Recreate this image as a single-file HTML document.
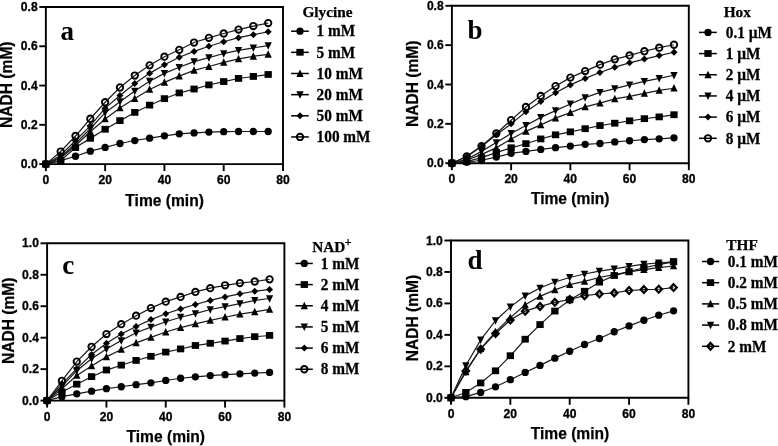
<!DOCTYPE html>
<html><head><meta charset="utf-8"><title>NADH kinetics</title>
<style>
html,body{margin:0;padding:0;background:#fff;}
body{width:778px;height:446px;overflow:hidden;}
svg{display:block;filter:grayscale(1);}
.tk{font-family:"Liberation Sans", sans-serif;font-weight:bold;font-size:12.1px;fill:#000;stroke:#000;stroke-width:0.3px;}
.at{font-family:"Liberation Sans", sans-serif;font-weight:bold;font-size:16.2px;fill:#000;stroke:#000;stroke-width:0.25px;}
.yt{font-family:"Liberation Sans", sans-serif;font-weight:bold;font-size:15.8px;fill:#000;stroke:#000;stroke-width:0.25px;}
.pl{font-family:"Liberation Serif", serif;font-weight:bold;font-size:27px;fill:#000;}
.lg{font-family:"Liberation Serif", serif;font-weight:bold;font-size:15.3px;fill:#000;stroke:#000;stroke-width:0.25px;}
</style></head>
<body>
<svg width="778" height="446" viewBox="0 0 778 446">
<rect width="778" height="446" fill="#fff"/>
<path d="M45.85 7H283V164.1H45.85Z" fill="none" stroke="#000" stroke-width="1.9"/>
<path d="M45.85 164.1V171.1" stroke="#000" stroke-width="1.9"/>
<text x="45.85" y="184.1" class="tk" text-anchor="middle">0</text>
<path d="M105.14 164.1V171.1" stroke="#000" stroke-width="1.9"/>
<text x="105.14" y="184.1" class="tk" text-anchor="middle">20</text>
<path d="M164.43 164.1V171.1" stroke="#000" stroke-width="1.9"/>
<text x="164.43" y="184.1" class="tk" text-anchor="middle">40</text>
<path d="M223.71 164.1V171.1" stroke="#000" stroke-width="1.9"/>
<text x="223.71" y="184.1" class="tk" text-anchor="middle">60</text>
<path d="M283 164.1V171.1" stroke="#000" stroke-width="1.9"/>
<text x="283" y="184.1" class="tk" text-anchor="middle">80</text>
<path d="M39.25 164.1H45.85" stroke="#000" stroke-width="1.9"/>
<text x="37.65" y="168.1" class="tk" text-anchor="end">0.0</text>
<path d="M39.25 124.82H45.85" stroke="#000" stroke-width="1.9"/>
<text x="37.65" y="128.82" class="tk" text-anchor="end">0.2</text>
<path d="M39.25 85.55H45.85" stroke="#000" stroke-width="1.9"/>
<text x="37.65" y="89.55" class="tk" text-anchor="end">0.4</text>
<path d="M39.25 46.27H45.85" stroke="#000" stroke-width="1.9"/>
<text x="37.65" y="50.27" class="tk" text-anchor="end">0.6</text>
<path d="M39.25 7H45.85" stroke="#000" stroke-width="1.9"/>
<text x="37.65" y="11" class="tk" text-anchor="end">0.8</text>
<text x="164.6" y="205.6" class="at" text-anchor="middle" textLength="78.5" lengthAdjust="spacingAndGlyphs">Time (min)</text>
<text transform="translate(11.6 84.7) rotate(-90)" class="yt" text-anchor="middle" textLength="86.5" lengthAdjust="spacingAndGlyphs">NADH (mM)</text>
<text x="60.6" y="40.1" class="pl">a</text>
<polyline points="45.85,164.1 60.67,160.57 75.49,156.25 90.32,151.14 105.14,147.41 119.96,143.48 134.78,140.53 149.6,138.18 164.43,135.82 179.25,133.86 194.07,132.88 208.89,132.09 223.71,131.7 238.53,131.5 253.36,131.5 268.18,131.5" fill="none" stroke="#1a1a1a" stroke-width="1.2"/>
<polyline points="45.85,164.1 60.67,160.76 75.49,147.6 90.32,138.37 105.14,129.34 119.96,120.7 134.78,112.45 149.6,105.19 164.43,98.71 179.25,93.01 194.07,89.08 208.89,84.96 223.71,81.62 238.53,78.48 253.36,76.52 268.18,74.55" fill="none" stroke="#1a1a1a" stroke-width="1.2"/>
<polyline points="45.85,164.1 60.67,158.21 75.49,145.44 90.32,131.7 105.14,118.93 119.96,107.94 134.78,98.51 149.6,89.48 164.43,82.41 179.25,76.12 194.07,70.43 208.89,66.5 223.71,62.38 238.53,58.84 253.36,56.29 268.18,54.33" fill="none" stroke="#1a1a1a" stroke-width="1.2"/>
<polyline points="45.85,164.1 60.67,157.23 75.49,143.48 90.32,128.75 105.14,112.65 119.96,101.65 134.78,91.05 149.6,81.23 164.43,73.37 179.25,67.29 194.07,61.59 208.89,57.66 223.71,53.54 238.53,50.4 253.36,47.85 268.18,45.69" fill="none" stroke="#1a1a1a" stroke-width="1.2"/>
<polyline points="45.85,164.1 60.67,155.26 75.49,140.53 90.32,125.81 105.14,108.13 119.96,95.57 134.78,83.59 149.6,73.37 164.43,64.73 179.25,57.27 194.07,51.38 208.89,46.28 223.71,41.76 238.53,37.63 253.36,34.69 268.18,31.74" fill="none" stroke="#1a1a1a" stroke-width="1.2"/>
<polyline points="45.85,164.1 60.67,151.53 75.49,136.02 90.32,118.74 105.14,102.24 119.96,87.51 134.78,75.53 149.6,65.32 164.43,56.68 179.25,49.81 194.07,42.54 208.89,37.83 223.71,33.51 238.53,29.58 253.36,26.05 268.18,23.1" fill="none" stroke="#1a1a1a" stroke-width="1.2"/>
<circle cx="45.85" cy="164.1" r="3.65" fill="#000"/>
<circle cx="60.67" cy="160.57" r="3.65" fill="#000"/>
<circle cx="75.49" cy="156.25" r="3.65" fill="#000"/>
<circle cx="90.32" cy="151.14" r="3.65" fill="#000"/>
<circle cx="105.14" cy="147.41" r="3.65" fill="#000"/>
<circle cx="119.96" cy="143.48" r="3.65" fill="#000"/>
<circle cx="134.78" cy="140.53" r="3.65" fill="#000"/>
<circle cx="149.6" cy="138.18" r="3.65" fill="#000"/>
<circle cx="164.43" cy="135.82" r="3.65" fill="#000"/>
<circle cx="179.25" cy="133.86" r="3.65" fill="#000"/>
<circle cx="194.07" cy="132.88" r="3.65" fill="#000"/>
<circle cx="208.89" cy="132.09" r="3.65" fill="#000"/>
<circle cx="223.71" cy="131.7" r="3.65" fill="#000"/>
<circle cx="238.53" cy="131.5" r="3.65" fill="#000"/>
<circle cx="253.36" cy="131.5" r="3.65" fill="#000"/>
<circle cx="268.18" cy="131.5" r="3.65" fill="#000"/>
<rect x="42.2" y="160.63" width="7.3" height="6.79" fill="#000"/>
<rect x="57.02" y="157.29" width="7.3" height="6.79" fill="#000"/>
<rect x="71.84" y="144.14" width="7.3" height="6.79" fill="#000"/>
<rect x="86.67" y="134.91" width="7.3" height="6.79" fill="#000"/>
<rect x="101.49" y="125.87" width="7.3" height="6.79" fill="#000"/>
<rect x="116.31" y="117.23" width="7.3" height="6.79" fill="#000"/>
<rect x="131.13" y="108.99" width="7.3" height="6.79" fill="#000"/>
<rect x="145.95" y="101.72" width="7.3" height="6.79" fill="#000"/>
<rect x="160.78" y="95.24" width="7.3" height="6.79" fill="#000"/>
<rect x="175.6" y="89.54" width="7.3" height="6.79" fill="#000"/>
<rect x="190.42" y="85.62" width="7.3" height="6.79" fill="#000"/>
<rect x="205.24" y="81.49" width="7.3" height="6.79" fill="#000"/>
<rect x="220.06" y="78.16" width="7.3" height="6.79" fill="#000"/>
<rect x="234.88" y="75.01" width="7.3" height="6.79" fill="#000"/>
<rect x="249.71" y="73.05" width="7.3" height="6.79" fill="#000"/>
<rect x="264.53" y="71.09" width="7.3" height="6.79" fill="#000"/>
<path d="M45.85 159.97L49.5 167.47L42.2 167.47Z" fill="#000"/>
<path d="M60.67 154.08L64.32 161.58L57.02 161.58Z" fill="#000"/>
<path d="M75.49 141.32L79.14 148.82L71.84 148.82Z" fill="#000"/>
<path d="M90.32 127.57L93.97 135.07L86.67 135.07Z" fill="#000"/>
<path d="M105.14 114.81L108.79 122.31L101.49 122.31Z" fill="#000"/>
<path d="M119.96 103.81L123.61 111.31L116.31 111.31Z" fill="#000"/>
<path d="M134.78 94.39L138.43 101.89L131.13 101.89Z" fill="#000"/>
<path d="M149.6 85.35L153.25 92.85L145.95 92.85Z" fill="#000"/>
<path d="M164.43 78.28L168.08 85.78L160.78 85.78Z" fill="#000"/>
<path d="M179.25 72L182.9 79.5L175.6 79.5Z" fill="#000"/>
<path d="M194.07 66.3L197.72 73.8L190.42 73.8Z" fill="#000"/>
<path d="M208.89 62.38L212.54 69.88L205.24 69.88Z" fill="#000"/>
<path d="M223.71 58.25L227.36 65.75L220.06 65.75Z" fill="#000"/>
<path d="M238.53 54.72L242.18 62.22L234.88 62.22Z" fill="#000"/>
<path d="M253.36 52.17L257.01 59.67L249.71 59.67Z" fill="#000"/>
<path d="M268.18 50.2L271.83 57.7L264.53 57.7Z" fill="#000"/>
<path d="M45.85 168.22L49.5 160.72L42.2 160.72Z" fill="#000"/>
<path d="M60.67 161.35L64.32 153.85L57.02 153.85Z" fill="#000"/>
<path d="M75.49 147.61L79.14 140.11L71.84 140.11Z" fill="#000"/>
<path d="M90.32 132.88L93.97 125.38L86.67 125.38Z" fill="#000"/>
<path d="M105.14 116.77L108.79 109.27L101.49 109.27Z" fill="#000"/>
<path d="M119.96 105.78L123.61 98.28L116.31 98.28Z" fill="#000"/>
<path d="M134.78 95.17L138.43 87.67L131.13 87.67Z" fill="#000"/>
<path d="M149.6 85.35L153.25 77.85L145.95 77.85Z" fill="#000"/>
<path d="M164.43 77.5L168.08 70L160.78 70Z" fill="#000"/>
<path d="M179.25 71.41L182.9 63.91L175.6 63.91Z" fill="#000"/>
<path d="M194.07 65.72L197.72 58.22L190.42 58.22Z" fill="#000"/>
<path d="M208.89 61.79L212.54 54.29L205.24 54.29Z" fill="#000"/>
<path d="M223.71 57.67L227.36 50.17L220.06 50.17Z" fill="#000"/>
<path d="M238.53 54.52L242.18 47.02L234.88 47.02Z" fill="#000"/>
<path d="M253.36 51.97L257.01 44.47L249.71 44.47Z" fill="#000"/>
<path d="M268.18 49.81L271.83 42.31L264.53 42.31Z" fill="#000"/>
<path d="M45.85 160.6L49.35 164.1L45.85 167.6L42.35 164.1Z" fill="#000"/>
<path d="M60.67 151.76L64.17 155.26L60.67 158.76L57.17 155.26Z" fill="#000"/>
<path d="M75.49 137.03L78.99 140.53L75.49 144.03L71.99 140.53Z" fill="#000"/>
<path d="M90.32 122.31L93.82 125.81L90.32 129.31L86.82 125.81Z" fill="#000"/>
<path d="M105.14 104.63L108.64 108.13L105.14 111.63L101.64 108.13Z" fill="#000"/>
<path d="M119.96 92.07L123.46 95.57L119.96 99.07L116.46 95.57Z" fill="#000"/>
<path d="M134.78 80.09L138.28 83.59L134.78 87.09L131.28 83.59Z" fill="#000"/>
<path d="M149.6 69.87L153.1 73.37L149.6 76.87L146.1 73.37Z" fill="#000"/>
<path d="M164.43 61.23L167.93 64.73L164.43 68.23L160.93 64.73Z" fill="#000"/>
<path d="M179.25 53.77L182.75 57.27L179.25 60.77L175.75 57.27Z" fill="#000"/>
<path d="M194.07 47.88L197.57 51.38L194.07 54.88L190.57 51.38Z" fill="#000"/>
<path d="M208.89 42.78L212.39 46.28L208.89 49.78L205.39 46.28Z" fill="#000"/>
<path d="M223.71 38.26L227.21 41.76L223.71 45.26L220.21 41.76Z" fill="#000"/>
<path d="M238.53 34.13L242.03 37.63L238.53 41.13L235.03 37.63Z" fill="#000"/>
<path d="M253.36 31.19L256.86 34.69L253.36 38.19L249.86 34.69Z" fill="#000"/>
<path d="M268.18 28.24L271.68 31.74L268.18 35.24L264.68 31.74Z" fill="#000"/>
<circle cx="45.85" cy="164.1" r="3.2" fill="none" stroke="#000" stroke-width="1.9"/>
<circle cx="60.67" cy="151.53" r="3.2" fill="none" stroke="#000" stroke-width="1.9"/>
<circle cx="75.49" cy="136.02" r="3.2" fill="none" stroke="#000" stroke-width="1.9"/>
<circle cx="90.32" cy="118.74" r="3.2" fill="none" stroke="#000" stroke-width="1.9"/>
<circle cx="105.14" cy="102.24" r="3.2" fill="none" stroke="#000" stroke-width="1.9"/>
<circle cx="119.96" cy="87.51" r="3.2" fill="none" stroke="#000" stroke-width="1.9"/>
<circle cx="134.78" cy="75.53" r="3.2" fill="none" stroke="#000" stroke-width="1.9"/>
<circle cx="149.6" cy="65.32" r="3.2" fill="none" stroke="#000" stroke-width="1.9"/>
<circle cx="164.43" cy="56.68" r="3.2" fill="none" stroke="#000" stroke-width="1.9"/>
<circle cx="179.25" cy="49.81" r="3.2" fill="none" stroke="#000" stroke-width="1.9"/>
<circle cx="194.07" cy="42.54" r="3.2" fill="none" stroke="#000" stroke-width="1.9"/>
<circle cx="208.89" cy="37.83" r="3.2" fill="none" stroke="#000" stroke-width="1.9"/>
<circle cx="223.71" cy="33.51" r="3.2" fill="none" stroke="#000" stroke-width="1.9"/>
<circle cx="238.53" cy="29.58" r="3.2" fill="none" stroke="#000" stroke-width="1.9"/>
<circle cx="253.36" cy="26.05" r="3.2" fill="none" stroke="#000" stroke-width="1.9"/>
<circle cx="268.18" cy="23.1" r="3.2" fill="none" stroke="#000" stroke-width="1.9"/>
<text transform="translate(302.4 17) scale(1 1.0)" class="lg">Glycine</text>
<path d="M291.1 31.2H308.8" stroke="#000" stroke-width="1.5"/>
<circle cx="300" cy="31.2" r="3.65" fill="#000"/>
<text transform="translate(316.6 36.4) scale(1 1.05)" class="lg">1 mM</text>
<path d="M291.1 52.35H308.8" stroke="#000" stroke-width="1.5"/>
<rect x="296.35" y="48.88" width="7.3" height="6.79" fill="#000"/>
<text transform="translate(316.6 57.55) scale(1 1.05)" class="lg">5 mM</text>
<path d="M291.1 73.5H308.8" stroke="#000" stroke-width="1.5"/>
<path d="M300 69.38L303.65 76.88L296.35 76.88Z" fill="#000"/>
<text transform="translate(316.6 78.7) scale(1 1.05)" class="lg">10 mM</text>
<path d="M291.1 94.65H308.8" stroke="#000" stroke-width="1.5"/>
<path d="M300 98.77L303.65 91.27L296.35 91.27Z" fill="#000"/>
<text transform="translate(316.6 99.85) scale(1 1.05)" class="lg">20 mM</text>
<path d="M291.1 115.8H308.8" stroke="#000" stroke-width="1.5"/>
<path d="M300 112.3L303.5 115.8L300 119.3L296.5 115.8Z" fill="#000"/>
<text transform="translate(316.6 121) scale(1 1.05)" class="lg">50 mM</text>
<path d="M291.1 136.95H308.8" stroke="#000" stroke-width="1.5"/>
<circle cx="300" cy="136.95" r="3.2" fill="none" stroke="#000" stroke-width="1.9"/>
<text transform="translate(316.6 142.15) scale(1 1.05)" class="lg">100 mM</text>
<path d="M451.9 5.8H688.8V163.2H451.9Z" fill="none" stroke="#000" stroke-width="1.9"/>
<path d="M451.9 163.2V170.2" stroke="#000" stroke-width="1.9"/>
<text x="451.9" y="183.2" class="tk" text-anchor="middle">0</text>
<path d="M511.12 163.2V170.2" stroke="#000" stroke-width="1.9"/>
<text x="511.12" y="183.2" class="tk" text-anchor="middle">20</text>
<path d="M570.35 163.2V170.2" stroke="#000" stroke-width="1.9"/>
<text x="570.35" y="183.2" class="tk" text-anchor="middle">40</text>
<path d="M629.57 163.2V170.2" stroke="#000" stroke-width="1.9"/>
<text x="629.57" y="183.2" class="tk" text-anchor="middle">60</text>
<path d="M688.8 163.2V170.2" stroke="#000" stroke-width="1.9"/>
<text x="688.8" y="183.2" class="tk" text-anchor="middle">80</text>
<path d="M445.3 163.2H451.9" stroke="#000" stroke-width="1.9"/>
<text x="443.7" y="167.2" class="tk" text-anchor="end">0.0</text>
<path d="M445.3 123.85H451.9" stroke="#000" stroke-width="1.9"/>
<text x="443.7" y="127.85" class="tk" text-anchor="end">0.2</text>
<path d="M445.3 84.5H451.9" stroke="#000" stroke-width="1.9"/>
<text x="443.7" y="88.5" class="tk" text-anchor="end">0.4</text>
<path d="M445.3 45.15H451.9" stroke="#000" stroke-width="1.9"/>
<text x="443.7" y="49.15" class="tk" text-anchor="end">0.6</text>
<path d="M445.3 5.8H451.9" stroke="#000" stroke-width="1.9"/>
<text x="443.7" y="9.8" class="tk" text-anchor="end">0.8</text>
<text x="570.2" y="204.3" class="at" text-anchor="middle" textLength="78.5" lengthAdjust="spacingAndGlyphs">Time (min)</text>
<text transform="translate(418 83.8) rotate(-90)" class="yt" text-anchor="middle" textLength="86.5" lengthAdjust="spacingAndGlyphs">NADH (mM)</text>
<text x="467.4" y="39.2" class="pl">b</text>
<polyline points="451.9,163.2 466.71,162.22 481.51,160.25 496.32,157.1 511.12,153.36 525.93,151.39 540.74,149.43 555.54,147.66 570.35,146.08 585.16,144.31 599.96,143.52 614.77,141.95 629.57,140.77 644.38,139.59 659.19,138.8 673.99,137.82" fill="none" stroke="#1a1a1a" stroke-width="1.2"/>
<polyline points="451.9,163.2 466.71,161.63 481.51,157.69 496.32,152.58 511.12,147.85 525.93,143.72 540.74,139 555.54,134.87 570.35,131.92 585.16,128.77 599.96,125.62 614.77,123.26 629.57,120.9 644.38,118.73 659.19,116.96 673.99,114.8" fill="none" stroke="#1a1a1a" stroke-width="1.2"/>
<polyline points="451.9,163.2 466.71,160.25 481.51,154.35 496.32,147.85 511.12,139 525.93,131.33 540.74,124.83 555.54,118.14 570.35,112.64 585.16,106.93 599.96,103.19 614.77,98.86 629.57,96.3 644.38,93.35 659.19,90.4 673.99,88.24" fill="none" stroke="#1a1a1a" stroke-width="1.2"/>
<polyline points="451.9,163.2 466.71,159.26 481.51,151.39 496.32,142.54 511.12,133.49 525.93,125.42 540.74,117.36 555.54,110.67 570.35,103.98 585.16,97.68 599.96,92.37 614.77,88.63 629.57,84.89 644.38,81.35 659.19,78.4 673.99,75.25" fill="none" stroke="#1a1a1a" stroke-width="1.2"/>
<polyline points="451.9,163.2 466.71,156.71 481.51,146.48 496.32,134.67 511.12,123.85 525.93,111.85 540.74,101.62 555.54,92.76 570.35,84.89 585.16,78.4 599.96,72.5 614.77,67.19 629.57,62.86 644.38,59.12 659.19,55.58 673.99,52.23" fill="none" stroke="#1a1a1a" stroke-width="1.2"/>
<polyline points="451.9,163.2 466.71,156.31 481.51,146.08 496.32,133.49 511.12,120.11 525.93,106.93 540.74,95.91 555.54,86.07 570.35,77.61 585.16,71.12 599.96,64.63 614.77,59.32 629.57,55.38 644.38,51.25 659.19,47.71 673.99,44.76" fill="none" stroke="#1a1a1a" stroke-width="1.2"/>
<circle cx="451.9" cy="163.2" r="3.65" fill="#000"/>
<circle cx="466.71" cy="162.22" r="3.65" fill="#000"/>
<circle cx="481.51" cy="160.25" r="3.65" fill="#000"/>
<circle cx="496.32" cy="157.1" r="3.65" fill="#000"/>
<circle cx="511.12" cy="153.36" r="3.65" fill="#000"/>
<circle cx="525.93" cy="151.39" r="3.65" fill="#000"/>
<circle cx="540.74" cy="149.43" r="3.65" fill="#000"/>
<circle cx="555.54" cy="147.66" r="3.65" fill="#000"/>
<circle cx="570.35" cy="146.08" r="3.65" fill="#000"/>
<circle cx="585.16" cy="144.31" r="3.65" fill="#000"/>
<circle cx="599.96" cy="143.52" r="3.65" fill="#000"/>
<circle cx="614.77" cy="141.95" r="3.65" fill="#000"/>
<circle cx="629.57" cy="140.77" r="3.65" fill="#000"/>
<circle cx="644.38" cy="139.59" r="3.65" fill="#000"/>
<circle cx="659.19" cy="138.8" r="3.65" fill="#000"/>
<circle cx="673.99" cy="137.82" r="3.65" fill="#000"/>
<rect x="448.25" y="159.73" width="7.3" height="6.79" fill="#000"/>
<rect x="463.06" y="158.16" width="7.3" height="6.79" fill="#000"/>
<rect x="477.86" y="154.22" width="7.3" height="6.79" fill="#000"/>
<rect x="492.67" y="149.11" width="7.3" height="6.79" fill="#000"/>
<rect x="507.48" y="144.39" width="7.3" height="6.79" fill="#000"/>
<rect x="522.28" y="140.25" width="7.3" height="6.79" fill="#000"/>
<rect x="537.09" y="135.53" width="7.3" height="6.79" fill="#000"/>
<rect x="551.89" y="131.4" width="7.3" height="6.79" fill="#000"/>
<rect x="566.7" y="128.45" width="7.3" height="6.79" fill="#000"/>
<rect x="581.51" y="125.3" width="7.3" height="6.79" fill="#000"/>
<rect x="596.31" y="122.15" width="7.3" height="6.79" fill="#000"/>
<rect x="611.12" y="119.79" width="7.3" height="6.79" fill="#000"/>
<rect x="625.92" y="117.43" width="7.3" height="6.79" fill="#000"/>
<rect x="640.73" y="115.27" width="7.3" height="6.79" fill="#000"/>
<rect x="655.54" y="113.5" width="7.3" height="6.79" fill="#000"/>
<rect x="670.34" y="111.33" width="7.3" height="6.79" fill="#000"/>
<path d="M451.9 159.07L455.55 166.57L448.25 166.57Z" fill="#000"/>
<path d="M466.71 156.12L470.36 163.62L463.06 163.62Z" fill="#000"/>
<path d="M481.51 150.22L485.16 157.72L477.86 157.72Z" fill="#000"/>
<path d="M496.32 143.73L499.97 151.23L492.67 151.23Z" fill="#000"/>
<path d="M511.12 134.87L514.77 142.37L507.48 142.37Z" fill="#000"/>
<path d="M525.93 127.2L529.58 134.7L522.28 134.7Z" fill="#000"/>
<path d="M540.74 120.71L544.39 128.21L537.09 128.21Z" fill="#000"/>
<path d="M555.54 114.02L559.19 121.52L551.89 121.52Z" fill="#000"/>
<path d="M570.35 108.51L574 116.01L566.7 116.01Z" fill="#000"/>
<path d="M585.16 102.8L588.81 110.3L581.51 110.3Z" fill="#000"/>
<path d="M599.96 99.07L603.61 106.57L596.31 106.57Z" fill="#000"/>
<path d="M614.77 94.74L618.42 102.24L611.12 102.24Z" fill="#000"/>
<path d="M629.57 92.18L633.22 99.68L625.92 99.68Z" fill="#000"/>
<path d="M644.38 89.23L648.03 96.73L640.73 96.73Z" fill="#000"/>
<path d="M659.19 86.28L662.84 93.78L655.54 93.78Z" fill="#000"/>
<path d="M673.99 84.11L677.64 91.61L670.34 91.61Z" fill="#000"/>
<path d="M451.9 167.32L455.55 159.82L448.25 159.82Z" fill="#000"/>
<path d="M466.71 163.39L470.36 155.89L463.06 155.89Z" fill="#000"/>
<path d="M481.51 155.52L485.16 148.02L477.86 148.02Z" fill="#000"/>
<path d="M496.32 146.67L499.97 139.17L492.67 139.17Z" fill="#000"/>
<path d="M511.12 137.62L514.77 130.12L507.48 130.12Z" fill="#000"/>
<path d="M525.93 129.55L529.58 122.05L522.28 122.05Z" fill="#000"/>
<path d="M540.74 121.48L544.39 113.98L537.09 113.98Z" fill="#000"/>
<path d="M555.54 114.79L559.19 107.29L551.89 107.29Z" fill="#000"/>
<path d="M570.35 108.1L574 100.6L566.7 100.6Z" fill="#000"/>
<path d="M585.16 101.81L588.81 94.31L581.51 94.31Z" fill="#000"/>
<path d="M599.96 96.5L603.61 89L596.31 89Z" fill="#000"/>
<path d="M614.77 92.76L618.42 85.26L611.12 85.26Z" fill="#000"/>
<path d="M629.57 89.02L633.22 81.52L625.92 81.52Z" fill="#000"/>
<path d="M644.38 85.48L648.03 77.98L640.73 77.98Z" fill="#000"/>
<path d="M659.19 82.53L662.84 75.03L655.54 75.03Z" fill="#000"/>
<path d="M673.99 79.38L677.64 71.88L670.34 71.88Z" fill="#000"/>
<path d="M451.9 159.7L455.4 163.2L451.9 166.7L448.4 163.2Z" fill="#000"/>
<path d="M466.71 153.21L470.21 156.71L466.71 160.21L463.21 156.71Z" fill="#000"/>
<path d="M481.51 142.98L485.01 146.48L481.51 149.98L478.01 146.48Z" fill="#000"/>
<path d="M496.32 131.17L499.82 134.67L496.32 138.17L492.82 134.67Z" fill="#000"/>
<path d="M511.12 120.35L514.62 123.85L511.12 127.35L507.62 123.85Z" fill="#000"/>
<path d="M525.93 108.35L529.43 111.85L525.93 115.35L522.43 111.85Z" fill="#000"/>
<path d="M540.74 98.12L544.24 101.62L540.74 105.12L537.24 101.62Z" fill="#000"/>
<path d="M555.54 89.26L559.04 92.76L555.54 96.26L552.04 92.76Z" fill="#000"/>
<path d="M570.35 81.39L573.85 84.89L570.35 88.39L566.85 84.89Z" fill="#000"/>
<path d="M585.16 74.9L588.66 78.4L585.16 81.9L581.66 78.4Z" fill="#000"/>
<path d="M599.96 69L603.46 72.5L599.96 76L596.46 72.5Z" fill="#000"/>
<path d="M614.77 63.69L618.27 67.19L614.77 70.69L611.27 67.19Z" fill="#000"/>
<path d="M629.57 59.36L633.07 62.86L629.57 66.36L626.07 62.86Z" fill="#000"/>
<path d="M644.38 55.62L647.88 59.12L644.38 62.62L640.88 59.12Z" fill="#000"/>
<path d="M659.19 52.08L662.69 55.58L659.19 59.08L655.69 55.58Z" fill="#000"/>
<path d="M673.99 48.73L677.49 52.23L673.99 55.73L670.49 52.23Z" fill="#000"/>
<circle cx="451.9" cy="163.2" r="3.2" fill="none" stroke="#000" stroke-width="1.9"/>
<circle cx="466.71" cy="156.31" r="3.2" fill="none" stroke="#000" stroke-width="1.9"/>
<circle cx="481.51" cy="146.08" r="3.2" fill="none" stroke="#000" stroke-width="1.9"/>
<circle cx="496.32" cy="133.49" r="3.2" fill="none" stroke="#000" stroke-width="1.9"/>
<circle cx="511.12" cy="120.11" r="3.2" fill="none" stroke="#000" stroke-width="1.9"/>
<circle cx="525.93" cy="106.93" r="3.2" fill="none" stroke="#000" stroke-width="1.9"/>
<circle cx="540.74" cy="95.91" r="3.2" fill="none" stroke="#000" stroke-width="1.9"/>
<circle cx="555.54" cy="86.07" r="3.2" fill="none" stroke="#000" stroke-width="1.9"/>
<circle cx="570.35" cy="77.61" r="3.2" fill="none" stroke="#000" stroke-width="1.9"/>
<circle cx="585.16" cy="71.12" r="3.2" fill="none" stroke="#000" stroke-width="1.9"/>
<circle cx="599.96" cy="64.63" r="3.2" fill="none" stroke="#000" stroke-width="1.9"/>
<circle cx="614.77" cy="59.32" r="3.2" fill="none" stroke="#000" stroke-width="1.9"/>
<circle cx="629.57" cy="55.38" r="3.2" fill="none" stroke="#000" stroke-width="1.9"/>
<circle cx="644.38" cy="51.25" r="3.2" fill="none" stroke="#000" stroke-width="1.9"/>
<circle cx="659.19" cy="47.71" r="3.2" fill="none" stroke="#000" stroke-width="1.9"/>
<circle cx="673.99" cy="44.76" r="3.2" fill="none" stroke="#000" stroke-width="1.9"/>
<text transform="translate(723.7 16.5) scale(1 1.0)" class="lg">Hox</text>
<path d="M699 32.4H716.8" stroke="#000" stroke-width="1.5"/>
<circle cx="708" cy="32.4" r="3.65" fill="#000"/>
<text transform="translate(725.8 37.6) scale(1 1.05)" class="lg">0.1 µM</text>
<path d="M699 53.58H716.8" stroke="#000" stroke-width="1.5"/>
<rect x="704.35" y="50.11" width="7.3" height="6.79" fill="#000"/>
<text transform="translate(725.8 58.78) scale(1 1.05)" class="lg">1 µM</text>
<path d="M699 74.76H716.8" stroke="#000" stroke-width="1.5"/>
<path d="M708 70.63L711.65 78.13L704.35 78.13Z" fill="#000"/>
<text transform="translate(725.8 79.96) scale(1 1.05)" class="lg">2 µM</text>
<path d="M699 95.94H716.8" stroke="#000" stroke-width="1.5"/>
<path d="M708 100.06L711.65 92.56L704.35 92.56Z" fill="#000"/>
<text transform="translate(725.8 101.14) scale(1 1.05)" class="lg">4 µM</text>
<path d="M699 117.12H716.8" stroke="#000" stroke-width="1.5"/>
<path d="M708 113.62L711.5 117.12L708 120.62L704.5 117.12Z" fill="#000"/>
<text transform="translate(725.8 122.32) scale(1 1.05)" class="lg">6 µM</text>
<path d="M699 138.3H716.8" stroke="#000" stroke-width="1.5"/>
<circle cx="708" cy="138.3" r="3.2" fill="none" stroke="#000" stroke-width="1.9"/>
<text transform="translate(725.8 143.5) scale(1 1.05)" class="lg">8 µM</text>
<path d="M47.1 243.3H284.4V400.6H47.1Z" fill="none" stroke="#000" stroke-width="1.9"/>
<path d="M47.1 400.6V407.6" stroke="#000" stroke-width="1.9"/>
<text x="47.1" y="420.6" class="tk" text-anchor="middle">0</text>
<path d="M106.42 400.6V407.6" stroke="#000" stroke-width="1.9"/>
<text x="106.42" y="420.6" class="tk" text-anchor="middle">20</text>
<path d="M165.75 400.6V407.6" stroke="#000" stroke-width="1.9"/>
<text x="165.75" y="420.6" class="tk" text-anchor="middle">40</text>
<path d="M225.07 400.6V407.6" stroke="#000" stroke-width="1.9"/>
<text x="225.07" y="420.6" class="tk" text-anchor="middle">60</text>
<path d="M284.4 400.6V407.6" stroke="#000" stroke-width="1.9"/>
<text x="284.4" y="420.6" class="tk" text-anchor="middle">80</text>
<path d="M40.5 400.6H47.1" stroke="#000" stroke-width="1.9"/>
<text x="38.9" y="404.6" class="tk" text-anchor="end">0.0</text>
<path d="M40.5 369.14H47.1" stroke="#000" stroke-width="1.9"/>
<text x="38.9" y="373.14" class="tk" text-anchor="end">0.2</text>
<path d="M40.5 337.68H47.1" stroke="#000" stroke-width="1.9"/>
<text x="38.9" y="341.68" class="tk" text-anchor="end">0.4</text>
<path d="M40.5 306.22H47.1" stroke="#000" stroke-width="1.9"/>
<text x="38.9" y="310.22" class="tk" text-anchor="end">0.6</text>
<path d="M40.5 274.76H47.1" stroke="#000" stroke-width="1.9"/>
<text x="38.9" y="278.76" class="tk" text-anchor="end">0.8</text>
<path d="M40.5 243.3H47.1" stroke="#000" stroke-width="1.9"/>
<text x="38.9" y="247.3" class="tk" text-anchor="end">1.0</text>
<text x="165.8" y="441.5" class="at" text-anchor="middle" textLength="78.5" lengthAdjust="spacingAndGlyphs">Time (min)</text>
<text transform="translate(13.6 320.85) rotate(-90)" class="yt" text-anchor="middle" textLength="86.5" lengthAdjust="spacingAndGlyphs">NADH (mM)</text>
<text x="62.3" y="273.8" class="pl">c</text>
<polyline points="47.1,400.6 61.93,396.67 76.76,393.84 91.59,391.16 106.42,388.65 121.26,386.76 136.09,384.71 150.92,382.83 165.75,380.47 180.58,378.26 195.41,376.85 210.24,375.59 225.07,374.65 239.91,373.86 254.74,373.07 269.57,372.44" fill="none" stroke="#1a1a1a" stroke-width="1.2"/>
<polyline points="47.1,400.6 61.93,391.95 76.76,384.24 91.59,376.69 106.42,370.08 121.26,365.21 136.09,360.49 150.92,356.4 165.75,352.15 180.58,349.01 195.41,345.55 210.24,343.34 225.07,341.14 239.91,338.62 254.74,336.74 269.57,335.48" fill="none" stroke="#1a1a1a" stroke-width="1.2"/>
<polyline points="47.1,400.6 61.93,388.8 76.76,375.43 91.59,365.99 106.42,356.87 121.26,349.48 136.09,342.87 150.92,337.37 165.75,332.02 180.58,327.61 195.41,323.84 210.24,320.38 225.07,317.23 239.91,314.09 254.74,311.88 269.57,309.37" fill="none" stroke="#1a1a1a" stroke-width="1.2"/>
<polyline points="47.1,400.6 61.93,386.44 76.76,370.71 91.59,358.76 106.42,349.01 121.26,340.51 136.09,332.8 150.92,327.14 165.75,321.79 180.58,317.23 195.41,313.61 210.24,309.52 225.07,306.69 239.91,303.55 254.74,300.4 269.57,298.51" fill="none" stroke="#1a1a1a" stroke-width="1.2"/>
<polyline points="47.1,400.6 61.93,384.08 76.76,368.67 91.59,354.51 106.42,343.34 121.26,334.06 136.09,326.51 150.92,319.59 165.75,313.77 180.58,308.89 195.41,304.49 210.24,300.4 225.07,296.94 239.91,293.79 254.74,291.28 269.57,289.39" fill="none" stroke="#1a1a1a" stroke-width="1.2"/>
<polyline points="47.1,400.6 61.93,380.78 76.76,361.59 91.59,346.8 106.42,334.06 121.26,324.15 136.09,315.66 150.92,308.11 165.75,301.66 180.58,296.94 195.41,291.91 210.24,288.13 225.07,285.3 239.91,283.1 254.74,281.52 269.57,279.32" fill="none" stroke="#1a1a1a" stroke-width="1.2"/>
<circle cx="47.1" cy="400.6" r="3.65" fill="#000"/>
<circle cx="61.93" cy="396.67" r="3.65" fill="#000"/>
<circle cx="76.76" cy="393.84" r="3.65" fill="#000"/>
<circle cx="91.59" cy="391.16" r="3.65" fill="#000"/>
<circle cx="106.42" cy="388.65" r="3.65" fill="#000"/>
<circle cx="121.26" cy="386.76" r="3.65" fill="#000"/>
<circle cx="136.09" cy="384.71" r="3.65" fill="#000"/>
<circle cx="150.92" cy="382.83" r="3.65" fill="#000"/>
<circle cx="165.75" cy="380.47" r="3.65" fill="#000"/>
<circle cx="180.58" cy="378.26" r="3.65" fill="#000"/>
<circle cx="195.41" cy="376.85" r="3.65" fill="#000"/>
<circle cx="210.24" cy="375.59" r="3.65" fill="#000"/>
<circle cx="225.07" cy="374.65" r="3.65" fill="#000"/>
<circle cx="239.91" cy="373.86" r="3.65" fill="#000"/>
<circle cx="254.74" cy="373.07" r="3.65" fill="#000"/>
<circle cx="269.57" cy="372.44" r="3.65" fill="#000"/>
<rect x="43.45" y="397.13" width="7.3" height="6.79" fill="#000"/>
<rect x="58.28" y="388.48" width="7.3" height="6.79" fill="#000"/>
<rect x="73.11" y="380.77" width="7.3" height="6.79" fill="#000"/>
<rect x="87.94" y="373.22" width="7.3" height="6.79" fill="#000"/>
<rect x="102.77" y="366.62" width="7.3" height="6.79" fill="#000"/>
<rect x="117.61" y="361.74" width="7.3" height="6.79" fill="#000"/>
<rect x="132.44" y="357.02" width="7.3" height="6.79" fill="#000"/>
<rect x="147.27" y="352.93" width="7.3" height="6.79" fill="#000"/>
<rect x="162.1" y="348.68" width="7.3" height="6.79" fill="#000"/>
<rect x="176.93" y="345.54" width="7.3" height="6.79" fill="#000"/>
<rect x="191.76" y="342.08" width="7.3" height="6.79" fill="#000"/>
<rect x="206.59" y="339.88" width="7.3" height="6.79" fill="#000"/>
<rect x="221.42" y="337.67" width="7.3" height="6.79" fill="#000"/>
<rect x="236.26" y="335.16" width="7.3" height="6.79" fill="#000"/>
<rect x="251.09" y="333.27" width="7.3" height="6.79" fill="#000"/>
<rect x="265.92" y="332.01" width="7.3" height="6.79" fill="#000"/>
<path d="M47.1 396.48L50.75 403.98L43.45 403.98Z" fill="#000"/>
<path d="M61.93 384.68L65.58 392.18L58.28 392.18Z" fill="#000"/>
<path d="M76.76 371.31L80.41 378.81L73.11 378.81Z" fill="#000"/>
<path d="M91.59 361.87L95.24 369.37L87.94 369.37Z" fill="#000"/>
<path d="M106.42 352.75L110.07 360.25L102.77 360.25Z" fill="#000"/>
<path d="M121.26 345.35L124.91 352.85L117.61 352.85Z" fill="#000"/>
<path d="M136.09 338.75L139.74 346.25L132.44 346.25Z" fill="#000"/>
<path d="M150.92 333.24L154.57 340.74L147.27 340.74Z" fill="#000"/>
<path d="M165.75 327.89L169.4 335.39L162.1 335.39Z" fill="#000"/>
<path d="M180.58 323.49L184.23 330.99L176.93 330.99Z" fill="#000"/>
<path d="M195.41 319.71L199.06 327.21L191.76 327.21Z" fill="#000"/>
<path d="M210.24 316.25L213.89 323.75L206.59 323.75Z" fill="#000"/>
<path d="M225.07 313.11L228.72 320.61L221.42 320.61Z" fill="#000"/>
<path d="M239.91 309.96L243.56 317.46L236.26 317.46Z" fill="#000"/>
<path d="M254.74 307.76L258.39 315.26L251.09 315.26Z" fill="#000"/>
<path d="M269.57 305.24L273.22 312.74L265.92 312.74Z" fill="#000"/>
<path d="M47.1 404.73L50.75 397.23L43.45 397.23Z" fill="#000"/>
<path d="M61.93 390.57L65.58 383.07L58.28 383.07Z" fill="#000"/>
<path d="M76.76 374.84L80.41 367.34L73.11 367.34Z" fill="#000"/>
<path d="M91.59 362.88L95.24 355.38L87.94 355.38Z" fill="#000"/>
<path d="M106.42 353.13L110.07 345.63L102.77 345.63Z" fill="#000"/>
<path d="M121.26 344.64L124.91 337.14L117.61 337.14Z" fill="#000"/>
<path d="M136.09 336.93L139.74 329.43L132.44 329.43Z" fill="#000"/>
<path d="M150.92 331.27L154.57 323.77L147.27 323.77Z" fill="#000"/>
<path d="M165.75 325.92L169.4 318.42L162.1 318.42Z" fill="#000"/>
<path d="M180.58 321.36L184.23 313.86L176.93 313.86Z" fill="#000"/>
<path d="M195.41 317.74L199.06 310.24L191.76 310.24Z" fill="#000"/>
<path d="M210.24 313.65L213.89 306.15L206.59 306.15Z" fill="#000"/>
<path d="M225.07 310.82L228.72 303.32L221.42 303.32Z" fill="#000"/>
<path d="M239.91 307.67L243.56 300.17L236.26 300.17Z" fill="#000"/>
<path d="M254.74 304.52L258.39 297.02L251.09 297.02Z" fill="#000"/>
<path d="M269.57 302.64L273.22 295.14L265.92 295.14Z" fill="#000"/>
<path d="M47.1 397.1L50.6 400.6L47.1 404.1L43.6 400.6Z" fill="#000"/>
<path d="M61.93 380.58L65.43 384.08L61.93 387.58L58.43 384.08Z" fill="#000"/>
<path d="M76.76 365.17L80.26 368.67L76.76 372.17L73.26 368.67Z" fill="#000"/>
<path d="M91.59 351.01L95.09 354.51L91.59 358.01L88.09 354.51Z" fill="#000"/>
<path d="M106.42 339.84L109.92 343.34L106.42 346.84L102.92 343.34Z" fill="#000"/>
<path d="M121.26 330.56L124.76 334.06L121.26 337.56L117.76 334.06Z" fill="#000"/>
<path d="M136.09 323.01L139.59 326.51L136.09 330.01L132.59 326.51Z" fill="#000"/>
<path d="M150.92 316.09L154.42 319.59L150.92 323.09L147.42 319.59Z" fill="#000"/>
<path d="M165.75 310.27L169.25 313.77L165.75 317.27L162.25 313.77Z" fill="#000"/>
<path d="M180.58 305.39L184.08 308.89L180.58 312.39L177.08 308.89Z" fill="#000"/>
<path d="M195.41 300.99L198.91 304.49L195.41 307.99L191.91 304.49Z" fill="#000"/>
<path d="M210.24 296.9L213.74 300.4L210.24 303.9L206.74 300.4Z" fill="#000"/>
<path d="M225.07 293.44L228.57 296.94L225.07 300.44L221.57 296.94Z" fill="#000"/>
<path d="M239.91 290.29L243.41 293.79L239.91 297.29L236.41 293.79Z" fill="#000"/>
<path d="M254.74 287.78L258.24 291.28L254.74 294.78L251.24 291.28Z" fill="#000"/>
<path d="M269.57 285.89L273.07 289.39L269.57 292.89L266.07 289.39Z" fill="#000"/>
<circle cx="47.1" cy="400.6" r="3.2" fill="none" stroke="#000" stroke-width="1.9"/>
<circle cx="61.93" cy="380.78" r="3.2" fill="none" stroke="#000" stroke-width="1.9"/>
<circle cx="76.76" cy="361.59" r="3.2" fill="none" stroke="#000" stroke-width="1.9"/>
<circle cx="91.59" cy="346.8" r="3.2" fill="none" stroke="#000" stroke-width="1.9"/>
<circle cx="106.42" cy="334.06" r="3.2" fill="none" stroke="#000" stroke-width="1.9"/>
<circle cx="121.26" cy="324.15" r="3.2" fill="none" stroke="#000" stroke-width="1.9"/>
<circle cx="136.09" cy="315.66" r="3.2" fill="none" stroke="#000" stroke-width="1.9"/>
<circle cx="150.92" cy="308.11" r="3.2" fill="none" stroke="#000" stroke-width="1.9"/>
<circle cx="165.75" cy="301.66" r="3.2" fill="none" stroke="#000" stroke-width="1.9"/>
<circle cx="180.58" cy="296.94" r="3.2" fill="none" stroke="#000" stroke-width="1.9"/>
<circle cx="195.41" cy="291.91" r="3.2" fill="none" stroke="#000" stroke-width="1.9"/>
<circle cx="210.24" cy="288.13" r="3.2" fill="none" stroke="#000" stroke-width="1.9"/>
<circle cx="225.07" cy="285.3" r="3.2" fill="none" stroke="#000" stroke-width="1.9"/>
<circle cx="239.91" cy="283.1" r="3.2" fill="none" stroke="#000" stroke-width="1.9"/>
<circle cx="254.74" cy="281.52" r="3.2" fill="none" stroke="#000" stroke-width="1.9"/>
<circle cx="269.57" cy="279.32" r="3.2" fill="none" stroke="#000" stroke-width="1.9"/>
<text transform="translate(312.2 251.8) scale(1 1.0)" class="lg">NAD<tspan dy="-5.6" dx="-0.5" font-size="12">+</tspan></text>
<path d="M295.4 263.45H312.8" stroke="#000" stroke-width="1.5"/>
<circle cx="304.3" cy="263.45" r="3.65" fill="#000"/>
<text transform="translate(320.7 268.65) scale(1 1.05)" class="lg">1 mM</text>
<path d="M295.4 284.61H312.8" stroke="#000" stroke-width="1.5"/>
<rect x="300.65" y="281.14" width="7.3" height="6.79" fill="#000"/>
<text transform="translate(320.7 289.81) scale(1 1.05)" class="lg">2 mM</text>
<path d="M295.4 305.77H312.8" stroke="#000" stroke-width="1.5"/>
<path d="M304.3 301.64L307.95 309.14L300.65 309.14Z" fill="#000"/>
<text transform="translate(320.7 310.97) scale(1 1.05)" class="lg">4 mM</text>
<path d="M295.4 326.93H312.8" stroke="#000" stroke-width="1.5"/>
<path d="M304.3 331.06L307.95 323.56L300.65 323.56Z" fill="#000"/>
<text transform="translate(320.7 332.13) scale(1 1.05)" class="lg">5 mM</text>
<path d="M295.4 348.09H312.8" stroke="#000" stroke-width="1.5"/>
<path d="M304.3 344.59L307.8 348.09L304.3 351.59L300.8 348.09Z" fill="#000"/>
<text transform="translate(320.7 353.29) scale(1 1.05)" class="lg">6 mM</text>
<path d="M295.4 369.25H312.8" stroke="#000" stroke-width="1.5"/>
<circle cx="304.3" cy="369.25" r="3.2" fill="none" stroke="#000" stroke-width="1.9"/>
<text transform="translate(320.7 374.45) scale(1 1.05)" class="lg">8 mM</text>
<path d="M451 240.5H688.4V397.8H451Z" fill="none" stroke="#000" stroke-width="1.9"/>
<path d="M451 397.8V404.8" stroke="#000" stroke-width="1.9"/>
<text x="451" y="417.8" class="tk" text-anchor="middle">0</text>
<path d="M510.35 397.8V404.8" stroke="#000" stroke-width="1.9"/>
<text x="510.35" y="417.8" class="tk" text-anchor="middle">20</text>
<path d="M569.7 397.8V404.8" stroke="#000" stroke-width="1.9"/>
<text x="569.7" y="417.8" class="tk" text-anchor="middle">40</text>
<path d="M629.05 397.8V404.8" stroke="#000" stroke-width="1.9"/>
<text x="629.05" y="417.8" class="tk" text-anchor="middle">60</text>
<path d="M688.4 397.8V404.8" stroke="#000" stroke-width="1.9"/>
<text x="688.4" y="417.8" class="tk" text-anchor="middle">80</text>
<path d="M444.4 397.8H451" stroke="#000" stroke-width="1.9"/>
<text x="442.8" y="401.8" class="tk" text-anchor="end">0.0</text>
<path d="M444.4 366.34H451" stroke="#000" stroke-width="1.9"/>
<text x="442.8" y="370.34" class="tk" text-anchor="end">0.2</text>
<path d="M444.4 334.88H451" stroke="#000" stroke-width="1.9"/>
<text x="442.8" y="338.88" class="tk" text-anchor="end">0.4</text>
<path d="M444.4 303.42H451" stroke="#000" stroke-width="1.9"/>
<text x="442.8" y="307.42" class="tk" text-anchor="end">0.6</text>
<path d="M444.4 271.96H451" stroke="#000" stroke-width="1.9"/>
<text x="442.8" y="275.96" class="tk" text-anchor="end">0.8</text>
<path d="M444.4 240.5H451" stroke="#000" stroke-width="1.9"/>
<text x="442.8" y="244.5" class="tk" text-anchor="end">1.0</text>
<text x="570" y="439" class="at" text-anchor="middle" textLength="78.5" lengthAdjust="spacingAndGlyphs">Time (min)</text>
<text transform="translate(417.8 318.1) rotate(-90)" class="yt" text-anchor="middle" textLength="86.5" lengthAdjust="spacingAndGlyphs">NADH (mM)</text>
<text x="467.5" y="268.8" class="pl">d</text>
<polyline points="451,397.8 465.84,396.7 480.68,392.45 495.51,386.79 510.35,379.71 525.19,372.47 540.02,365.4 554.86,358.16 569.7,351.24 584.54,344.48 599.38,338.5 614.21,331.73 629.05,325.91 643.89,320.25 658.73,315.22 673.56,310.81" fill="none" stroke="#1a1a1a" stroke-width="1.2"/>
<polyline points="451,397.8 465.84,392.45 480.68,383.01 495.51,370.9 510.35,355.8 525.19,339.28 540.02,324.66 554.86,311.13 569.7,299.96 584.54,291.31 599.38,282.18 614.21,275.58 629.05,271.65 643.89,267.71 658.73,264.57 673.56,261.89" fill="none" stroke="#1a1a1a" stroke-width="1.2"/>
<polyline points="451,397.8 465.84,371.85 480.68,348.57 495.51,331.89 510.35,317.58 525.19,304.84 540.02,296.34 554.86,289.89 569.7,284.54 584.54,281.4 599.38,277.47 614.21,274.63 629.05,271.96 643.89,269.6 658.73,267.71 673.56,265.98" fill="none" stroke="#1a1a1a" stroke-width="1.2"/>
<polyline points="451,397.8 465.84,365.55 480.68,339.91 495.51,320.72 510.35,306.88 525.19,295.87 540.02,288 554.86,282.03 569.7,277.47 584.54,274 599.38,271.17 614.21,268.81 629.05,266.45 643.89,264.1 658.73,262.99 673.56,261.58" fill="none" stroke="#1a1a1a" stroke-width="1.2"/>
<polyline points="451,397.8 465.84,370.9 480.68,349.19 495.51,333.46 510.35,320.09 525.19,311.13 540.02,306.41 554.86,302.32 569.7,299.49 584.54,295.71 599.38,293.98 614.21,292.88 629.05,290.52 643.89,289.58 658.73,289.26 673.56,287.53" fill="none" stroke="#1a1a1a" stroke-width="1.2"/>
<circle cx="451" cy="397.8" r="3.65" fill="#000"/>
<circle cx="465.84" cy="396.7" r="3.65" fill="#000"/>
<circle cx="480.68" cy="392.45" r="3.65" fill="#000"/>
<circle cx="495.51" cy="386.79" r="3.65" fill="#000"/>
<circle cx="510.35" cy="379.71" r="3.65" fill="#000"/>
<circle cx="525.19" cy="372.47" r="3.65" fill="#000"/>
<circle cx="540.02" cy="365.4" r="3.65" fill="#000"/>
<circle cx="554.86" cy="358.16" r="3.65" fill="#000"/>
<circle cx="569.7" cy="351.24" r="3.65" fill="#000"/>
<circle cx="584.54" cy="344.48" r="3.65" fill="#000"/>
<circle cx="599.38" cy="338.5" r="3.65" fill="#000"/>
<circle cx="614.21" cy="331.73" r="3.65" fill="#000"/>
<circle cx="629.05" cy="325.91" r="3.65" fill="#000"/>
<circle cx="643.89" cy="320.25" r="3.65" fill="#000"/>
<circle cx="658.73" cy="315.22" r="3.65" fill="#000"/>
<circle cx="673.56" cy="310.81" r="3.65" fill="#000"/>
<rect x="447.35" y="394.33" width="7.3" height="6.79" fill="#000"/>
<rect x="462.19" y="388.98" width="7.3" height="6.79" fill="#000"/>
<rect x="477.03" y="379.55" width="7.3" height="6.79" fill="#000"/>
<rect x="491.86" y="367.43" width="7.3" height="6.79" fill="#000"/>
<rect x="506.7" y="352.33" width="7.3" height="6.79" fill="#000"/>
<rect x="521.54" y="335.82" width="7.3" height="6.79" fill="#000"/>
<rect x="536.38" y="321.19" width="7.3" height="6.79" fill="#000"/>
<rect x="551.21" y="307.66" width="7.3" height="6.79" fill="#000"/>
<rect x="566.05" y="296.49" width="7.3" height="6.79" fill="#000"/>
<rect x="580.89" y="287.84" width="7.3" height="6.79" fill="#000"/>
<rect x="595.73" y="278.72" width="7.3" height="6.79" fill="#000"/>
<rect x="610.56" y="272.11" width="7.3" height="6.79" fill="#000"/>
<rect x="625.4" y="268.18" width="7.3" height="6.79" fill="#000"/>
<rect x="640.24" y="264.25" width="7.3" height="6.79" fill="#000"/>
<rect x="655.08" y="261.1" width="7.3" height="6.79" fill="#000"/>
<rect x="669.91" y="258.43" width="7.3" height="6.79" fill="#000"/>
<path d="M451 393.68L454.65 401.18L447.35 401.18Z" fill="#000"/>
<path d="M465.84 367.72L469.49 375.22L462.19 375.22Z" fill="#000"/>
<path d="M480.68 344.44L484.32 351.94L477.03 351.94Z" fill="#000"/>
<path d="M495.51 327.77L499.16 335.27L491.86 335.27Z" fill="#000"/>
<path d="M510.35 313.45L514 320.95L506.7 320.95Z" fill="#000"/>
<path d="M525.19 300.71L528.84 308.21L521.54 308.21Z" fill="#000"/>
<path d="M540.02 292.22L543.67 299.72L536.38 299.72Z" fill="#000"/>
<path d="M554.86 285.77L558.51 293.27L551.21 293.27Z" fill="#000"/>
<path d="M569.7 280.42L573.35 287.92L566.05 287.92Z" fill="#000"/>
<path d="M584.54 277.27L588.19 284.77L580.89 284.77Z" fill="#000"/>
<path d="M599.38 273.34L603.02 280.84L595.73 280.84Z" fill="#000"/>
<path d="M614.21 270.51L617.86 278.01L610.56 278.01Z" fill="#000"/>
<path d="M629.05 267.83L632.7 275.33L625.4 275.33Z" fill="#000"/>
<path d="M643.89 265.48L647.54 272.98L640.24 272.98Z" fill="#000"/>
<path d="M658.73 263.59L662.38 271.09L655.08 271.09Z" fill="#000"/>
<path d="M673.56 261.86L677.21 269.36L669.91 269.36Z" fill="#000"/>
<path d="M451 401.93L454.65 394.43L447.35 394.43Z" fill="#000"/>
<path d="M465.84 369.68L469.49 362.18L462.19 362.18Z" fill="#000"/>
<path d="M480.68 344.04L484.32 336.54L477.03 336.54Z" fill="#000"/>
<path d="M495.51 324.85L499.16 317.35L491.86 317.35Z" fill="#000"/>
<path d="M510.35 311.01L514 303.51L506.7 303.51Z" fill="#000"/>
<path d="M525.19 299.99L528.84 292.49L521.54 292.49Z" fill="#000"/>
<path d="M540.02 292.13L543.67 284.63L536.38 284.63Z" fill="#000"/>
<path d="M554.86 286.15L558.51 278.65L551.21 278.65Z" fill="#000"/>
<path d="M569.7 281.59L573.35 274.09L566.05 274.09Z" fill="#000"/>
<path d="M584.54 278.13L588.19 270.63L580.89 270.63Z" fill="#000"/>
<path d="M599.38 275.3L603.02 267.8L595.73 267.8Z" fill="#000"/>
<path d="M614.21 272.94L617.86 265.44L610.56 265.44Z" fill="#000"/>
<path d="M629.05 270.58L632.7 263.08L625.4 263.08Z" fill="#000"/>
<path d="M643.89 268.22L647.54 260.72L640.24 260.72Z" fill="#000"/>
<path d="M658.73 267.12L662.38 259.62L655.08 259.62Z" fill="#000"/>
<path d="M673.56 265.7L677.21 258.2L669.91 258.2Z" fill="#000"/>
<path d="M451 394.4L454.2 397.8L451 401.2L447.8 397.8Z" fill="none" stroke="#000" stroke-width="2.2" stroke-linejoin="miter"/>
<path d="M465.84 367.5L469.04 370.9L465.84 374.3L462.64 370.9Z" fill="none" stroke="#000" stroke-width="2.2" stroke-linejoin="miter"/>
<path d="M480.68 345.79L483.88 349.19L480.68 352.59L477.48 349.19Z" fill="none" stroke="#000" stroke-width="2.2" stroke-linejoin="miter"/>
<path d="M495.51 330.06L498.71 333.46L495.51 336.86L492.31 333.46Z" fill="none" stroke="#000" stroke-width="2.2" stroke-linejoin="miter"/>
<path d="M510.35 316.69L513.55 320.09L510.35 323.49L507.15 320.09Z" fill="none" stroke="#000" stroke-width="2.2" stroke-linejoin="miter"/>
<path d="M525.19 307.73L528.39 311.13L525.19 314.53L521.99 311.13Z" fill="none" stroke="#000" stroke-width="2.2" stroke-linejoin="miter"/>
<path d="M540.02 303.01L543.23 306.41L540.02 309.81L536.82 306.41Z" fill="none" stroke="#000" stroke-width="2.2" stroke-linejoin="miter"/>
<path d="M554.86 298.92L558.06 302.32L554.86 305.72L551.66 302.32Z" fill="none" stroke="#000" stroke-width="2.2" stroke-linejoin="miter"/>
<path d="M569.7 296.09L572.9 299.49L569.7 302.89L566.5 299.49Z" fill="none" stroke="#000" stroke-width="2.2" stroke-linejoin="miter"/>
<path d="M584.54 292.31L587.74 295.71L584.54 299.11L581.34 295.71Z" fill="none" stroke="#000" stroke-width="2.2" stroke-linejoin="miter"/>
<path d="M599.38 290.58L602.58 293.98L599.38 297.38L596.17 293.98Z" fill="none" stroke="#000" stroke-width="2.2" stroke-linejoin="miter"/>
<path d="M614.21 289.48L617.41 292.88L614.21 296.28L611.01 292.88Z" fill="none" stroke="#000" stroke-width="2.2" stroke-linejoin="miter"/>
<path d="M629.05 287.12L632.25 290.52L629.05 293.92L625.85 290.52Z" fill="none" stroke="#000" stroke-width="2.2" stroke-linejoin="miter"/>
<path d="M643.89 286.18L647.09 289.58L643.89 292.98L640.69 289.58Z" fill="none" stroke="#000" stroke-width="2.2" stroke-linejoin="miter"/>
<path d="M658.73 285.86L661.93 289.26L658.73 292.66L655.52 289.26Z" fill="none" stroke="#000" stroke-width="2.2" stroke-linejoin="miter"/>
<path d="M673.56 284.13L676.76 287.53L673.56 290.93L670.36 287.53Z" fill="none" stroke="#000" stroke-width="2.2" stroke-linejoin="miter"/>
<text transform="translate(726.3 249.8) scale(1 1.0)" class="lg">THF</text>
<path d="M702 261.5H719.2" stroke="#000" stroke-width="1.5"/>
<circle cx="710.5" cy="261.5" r="3.65" fill="#000"/>
<text transform="translate(727.8 266.7) scale(1 1.05)" class="lg">0.1 mM</text>
<path d="M702 282.7H719.2" stroke="#000" stroke-width="1.5"/>
<rect x="706.85" y="279.23" width="7.3" height="6.79" fill="#000"/>
<text transform="translate(727.8 287.9) scale(1 1.05)" class="lg">0.2 mM</text>
<path d="M702 303.9H719.2" stroke="#000" stroke-width="1.5"/>
<path d="M710.5 299.77L714.15 307.27L706.85 307.27Z" fill="#000"/>
<text transform="translate(727.8 309.1) scale(1 1.05)" class="lg">0.5 mM</text>
<path d="M702 325.1H719.2" stroke="#000" stroke-width="1.5"/>
<path d="M710.5 329.23L714.15 321.73L706.85 321.73Z" fill="#000"/>
<text transform="translate(727.8 330.3) scale(1 1.05)" class="lg">0.8 mM</text>
<path d="M702 346.3H719.2" stroke="#000" stroke-width="1.5"/>
<path d="M710.5 342.9L713.7 346.3L710.5 349.7L707.3 346.3Z" fill="none" stroke="#000" stroke-width="2.2" stroke-linejoin="miter"/>
<text transform="translate(727.8 351.5) scale(1 1.05)" class="lg">2 mM</text>
</svg>
</body></html>
